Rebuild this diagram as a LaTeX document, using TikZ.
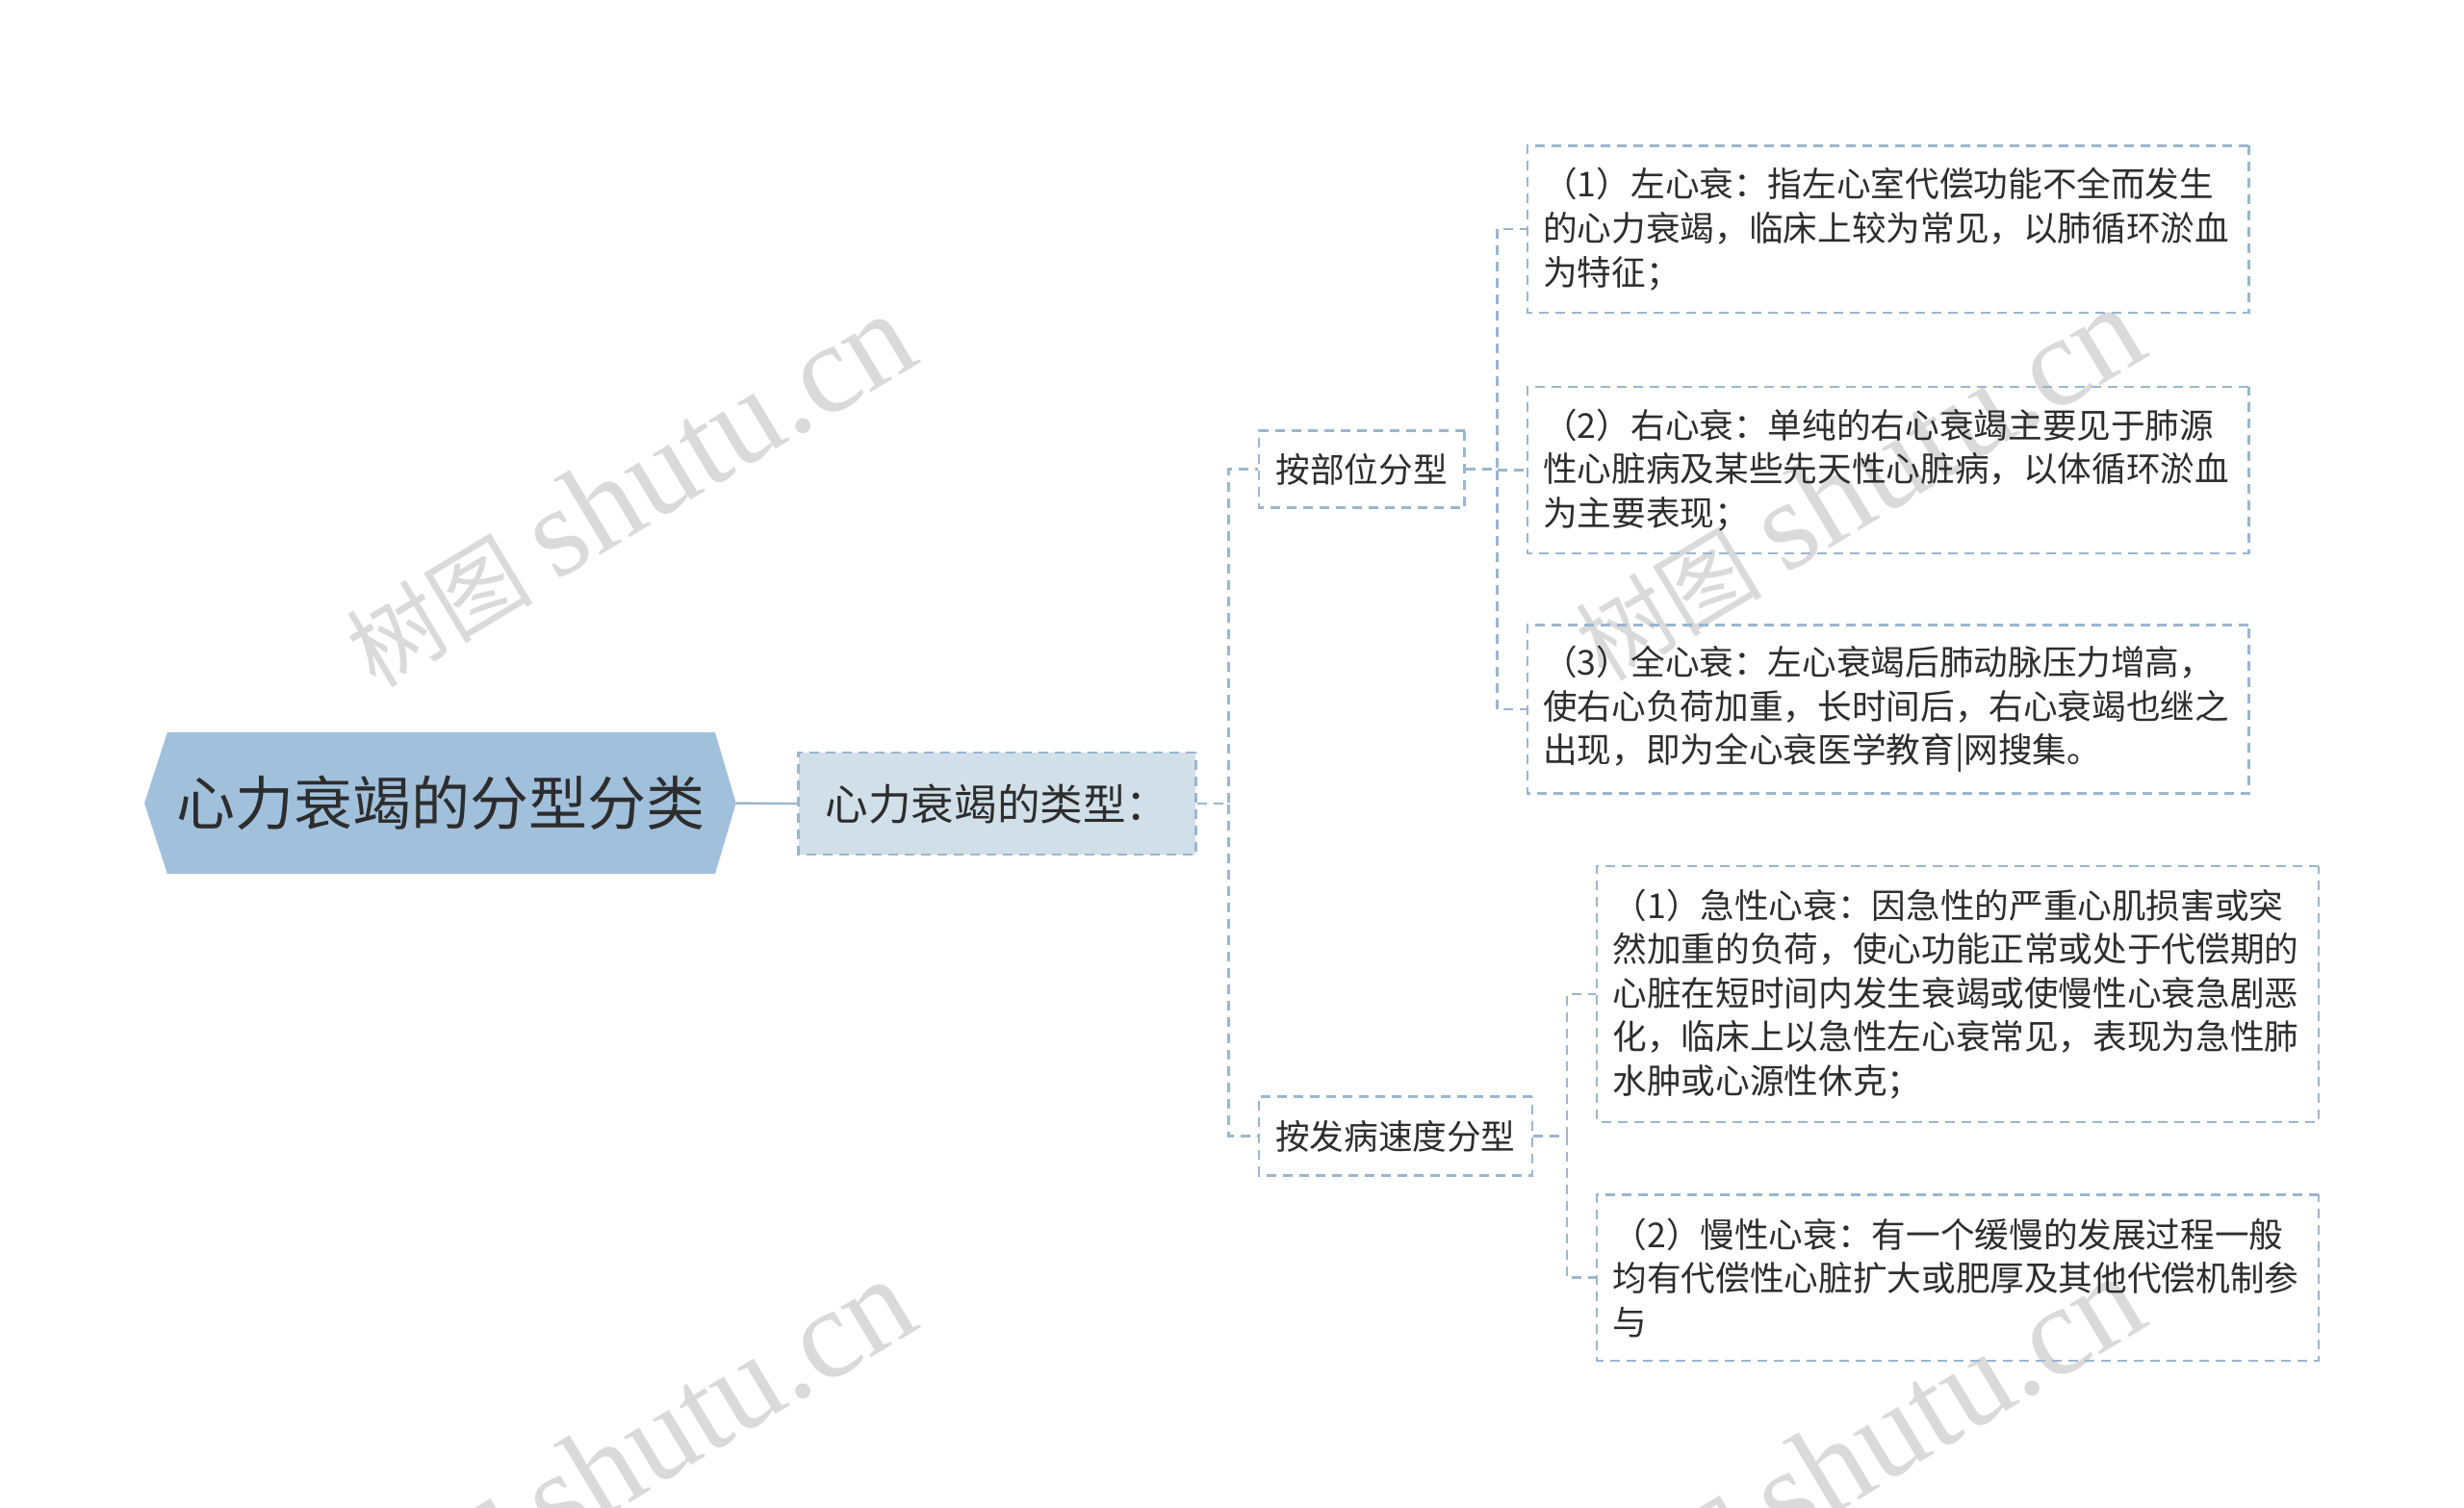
\documentclass[tikz,border=0pt]{standalone}
\usepackage{fontspec}
\setmainfont{Noto Sans CJK SC}
\newfontfamily\wmlatin{Liberation Serif}
\usetikzlibrary{backgrounds}
\definecolor{linec}{RGB}{155,182,206}
\definecolor{hexfill}{RGB}{161,192,220}
\definecolor{boxfill}{RGB}{209,223,233}
\definecolor{txt}{RGB}{45,45,45}
\definecolor{wm}{RGB}{218,218,218}
\begin{document}
\begin{tikzpicture}[
  conn/.style={draw=linec,line width=1.2pt,dash pattern=on 5pt off 3.5pt},
  dbox/.style={draw=linec,line width=1.2pt,dash pattern=on 5pt off 3.5pt,text=txt,inner sep=0pt},
  lvtwo/.style={dbox,font=\fontsize{18pt}{23pt}\selectfont,align=center},
  leaf/.style={dbox,font=\fontsize{18pt}{23pt}\selectfont,text width=362pt,align=left,minimum width=378.5pt},
  wmark/.style={text=wm,rotate=31,inner sep=0pt}]
\useasboundingbox (0pt,0pt) rectangle (1280pt,-783.5pt);
\begin{scope}[x=0.5pt,y=-0.5pt,scale=0.99,transform shape]
% watermarks
\foreach \wx/\wy [count=\i] in {660/515,1950/508,660/1528,1950/1525}{
  \node[wmark] (wm\i) at (\wx,\wy) {{\fontsize{49pt}{49pt}\selectfont 树图}\hspace{12pt}{\wmlatin\fontsize{67pt}{67pt}\selectfont shutu.cn}};
}
% root
\node[font=\fontsize{30.8pt}{36pt}\selectfont,text=txt,minimum width=287pt,minimum height=74pt,inner sep=0pt] (root) at (463,843) {心力衰竭的分型分类};
\coordinate (roottip) at ([xshift=11pt]root.east);
\coordinate (roottail) at ([xshift=-12pt]root.west);
\begin{scope}[on background layer]
\fill[hexfill] (root.north west) -- (root.north east) -- (roottip) -- (root.south east) -- (root.south west) -- (roottail) -- cycle;
\end{scope}
% level 1
\node[dbox,fill=boxfill,minimum width=208.5pt,minimum height=53.5pt,font=\fontsize{22.5pt}{26pt}\selectfont] (type) at (1046.5,843.5) {心力衰竭的类型：};
% level 2
\node[lvtwo,minimum width=108pt,minimum height=40.5pt] (pos) at (1429,492.5) {按部位分型};
\node[lvtwo,minimum width=143.5pt,minimum height=41.5pt] (speed) at (1464.5,1192.5) {按发病速度分型};
% leaves
\node[leaf,minimum height=87.5pt] (c1) at (1981.5,240.5) {（1）左心衰：指左心室代偿功能不全而发生\\的心力衰竭，临床上较为常见，以肺循环淤血\\为特征；};
\node[leaf,minimum height=87.5pt] (c2) at (1981.5,493.5) {（2）右心衰：单纯的右心衰竭主要见于肺源\\性心脏病及某些先天性心脏病，以体循环淤血\\为主要表现；};
\node[leaf,minimum height=88.5pt] (c3) at (1981.5,744.5) {（3）全心衰：左心衰竭后肺动脉压力增高，\\使右心负荷加重，长时间后，右心衰竭也继之\\出现，即为全心衰医学教育|网搜集。};
\node[leaf,minimum height=134.5pt] (c4) at (2054.5,1043.5) {（1）急性心衰：因急性的严重心肌损害或突\\然加重的负荷，使心功能正常或处于代偿期的\\心脏在短时间内发生衰竭或使慢性心衰急剧恶\\化，临床上以急性左心衰常见，表现为急性肺\\水肿或心源性休克；};
\node[leaf,minimum height=87pt] (c5) at (2054.5,1341) {（2）慢性心衰：有一个缓慢的发展过程一般\\均有代偿性心脏扩大或肥厚及其他代偿机制参\\与};
% connectors
\draw[draw=linec,line width=1.2pt] (roottip) -- (type.west);
\draw[conn] (type.east) -- ++(33,0) |- (pos.west);
\draw[conn] (type.east) -- ++(33,0) |- (speed.west);
\draw[conn] (pos.east) -- ++(33,0) |- (c1.west);
\draw[conn] (pos.east) -- ++(33,0) |- (c2.west);
\draw[conn] (pos.east) -- ++(33,0) |- (c3.west);
\draw[conn] (speed.east) -- ++(35,0) |- (c4.west);
\draw[conn] (speed.east) -- ++(35,0) |- (c5.west);
\end{scope}
\end{tikzpicture}
\end{document}
